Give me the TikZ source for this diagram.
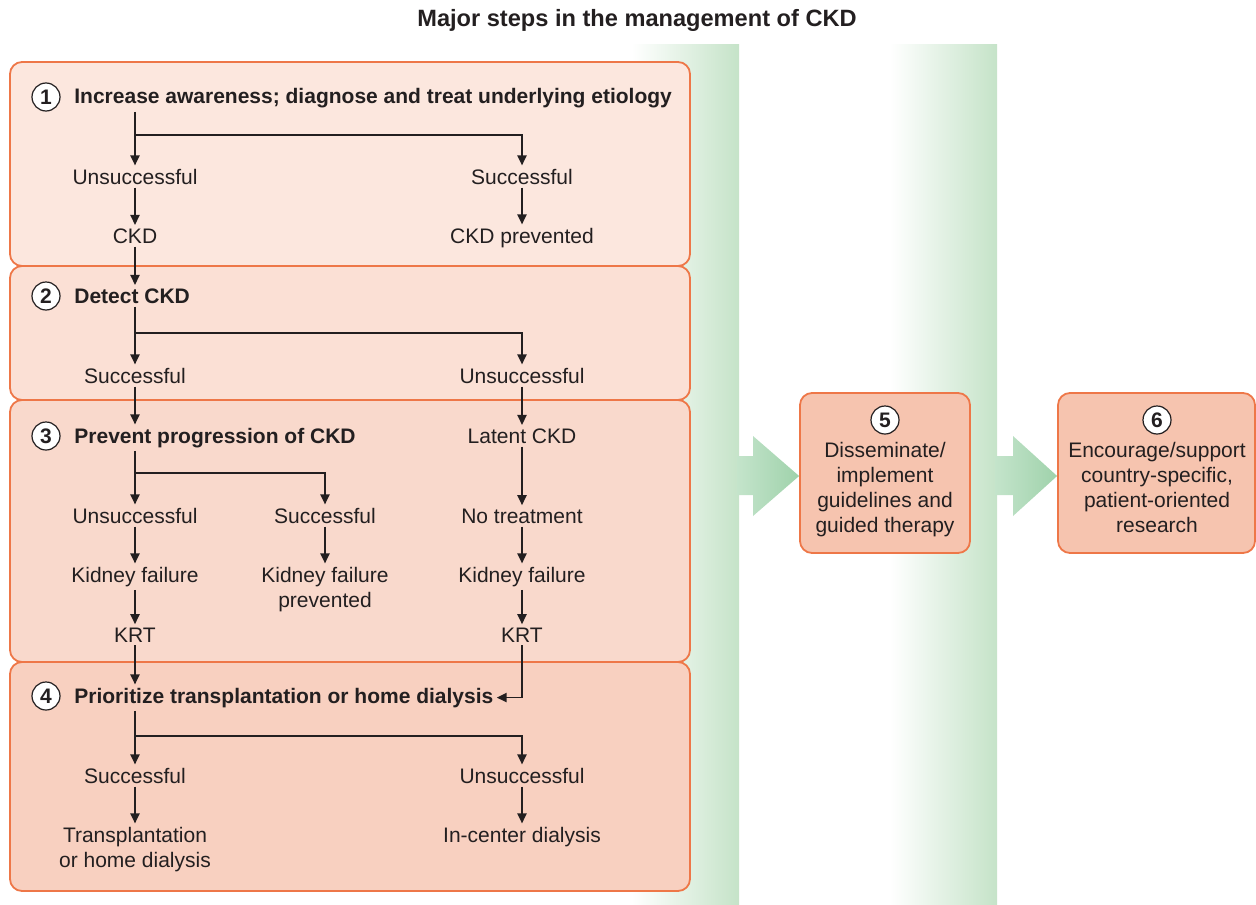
\documentclass[tikz,border=0pt]{standalone}
\usepackage{fontspec}
\setmainfont{Liberation Sans}
\usetikzlibrary{arrows.meta}
\definecolor{boxline}{HTML}{EE7748}
\definecolor{fillone}{HTML}{FCE7DE}
\definecolor{filltwo}{HTML}{FBE0D5}
\definecolor{fillthree}{HTML}{F9D9CC}
\definecolor{fillfour}{HTML}{F8D0C0}
\definecolor{fillstep}{HTML}{F6C4AF}
\definecolor{bandgreen}{HTML}{C5E3C8}
\definecolor{arrowlight}{HTML}{C4E4CB}
\definecolor{arrowdark}{HTML}{9FD2AB}
\definecolor{ink}{HTML}{231F20}
\tikzset{
	panel/.style={draw=boxline,line width=0.9pt,rounded corners=6pt},
	stepbox/.style={panel,fill=fillstep,minimum width=#1,minimum height=80pt,inner sep=0pt},
	lbl/.style={font=\fontsize{10.5}{12.5}\selectfont,text=ink,inner sep=1.5pt,anchor=base},
	lblml/.style={font=\fontsize{10.5}{12.5}\selectfont,text=ink,inner sep=1.5pt,align=center,anchor=north},
	head/.style={font=\fontsize{10.5}{12.5}\selectfont\bfseries,text=ink,inner sep=1.5pt,anchor=base west},
	num/.style={draw=ink,circle,fill=white,line width=0.6pt,minimum size=14pt,inner sep=0pt,text=ink,font=\fontsize{10.5}{12.5}\selectfont\bfseries},
	flow/.style={draw=ink,-{Triangle[length=5pt,width=4.6pt]},line width=0.85pt},
	band/.style={left color=white,right color=bandgreen},
	bigarrow/.style={left color=arrowlight,right color=arrowdark}
}
\begin{document}
\begin{tikzpicture}[x=0.5pt,y=-0.5pt]
	\useasboundingbox (0,0) rectangle (1256,904);
	\node[head,anchor=base,font=\fontsize{11.8}{14}\selectfont\bfseries] (title) at (637,27) {Major steps in the management of CKD};
	
	% green bands
	\shade[band] (632,45) rectangle (739,904);
	\shade[band] (890,45) rectangle (997,904);
	
	% panels
	\draw[panel,fill=fillone] (10,62) rectangle (690,266);
	\draw[panel,fill=filltwo] (10,266) rectangle (690,400);
	\draw[panel,fill=fillthree] (10,400) rectangle (690,662);
	\draw[panel,fill=fillfour] (10,662) rectangle (690,891);
	
	% step 1
	\node[num] (n1) at (46,97) {1};
	\node[head] (h1) at (71,104) {Increase awareness; diagnose and treat underlying etiology};
	\node[lbl] (u1) at (135,184) {Unsuccessful};
	\node[lbl] (s1) at (522,184) {Successful};
	\node[lbl] (ckd) at (135,243) {CKD};
	\node[lbl] (ckdp) at (522,243) {CKD prevented};
	\coordinate (j1) at (135,135);
	\draw[flow] (h1.south -| u1) -- (u1);
	\draw[flow] (j1) -| (s1);
	\draw[flow] (u1) -- (ckd);
	\draw[flow] (s1) -- (ckdp);
	
	% step 2
	\node[num] (n2) at (46,296) {2};
	\node[head] (h2) at (71,303) {Detect CKD};
	\node[lbl] (s2) at (135,383) {Successful};
	\node[lbl] (u2) at (522,383) {Unsuccessful};
	\coordinate (j2) at (135,333);
	\draw[flow] (ckd) -- (h2.north -| ckd);
	\draw[flow] (h2.south -| s2) -- (s2);
	\draw[flow] (j2) -| (u2);
	
	% step 3
	\node[num] (n3) at (46,436) {3};
	\node[head] (h3) at (71,443) {Prevent progression of CKD};
	\node[lbl] (lat) at (522,443) {Latent CKD};
	\node[lbl] (u3) at (135,523) {Unsuccessful};
	\node[lbl] (s3) at (325,523) {Successful};
	\node[lbl] (notr) at (522,523) {No treatment};
	\node[lbl] (kf1) at (135,582) {Kidney failure};
	\node[lblml] (kfp) at (kf1.north -| s3) {Kidney failure\\prevented};
	\node[lbl] (kf2) at (522,582) {Kidney failure};
	\node[lbl] (krt1) at (135,642) {KRT};
	\node[lbl] (krt2) at (522,642) {KRT};
	\coordinate (j3) at (135,473);
	\draw[flow] (s2) -- (h3.north -| s2);
	\draw[flow] (u2) -- (lat);
	\draw[flow] (h3.south -| u3) -- (u3);
	\draw[flow] (j3) -| (s3);
	\draw[flow] (u3) -- (kf1);
	\draw[flow] (s3) -- (kfp);
	\draw[flow] (kf1) -- (krt1);
	\draw[flow] (lat) -- (notr);
	\draw[flow] (notr) -- (kf2);
	\draw[flow] (kf2) -- (krt2);
	
	% step 4
	\node[num] (n4) at (46,696) {4};
	\node[head] (h4) at (71,703) {Prioritize transplantation or home dialysis};
	\node[lbl] (s4) at (135,783) {Successful};
	\node[lbl] (u4) at (522,783) {Unsuccessful};
	\node[lbl] (icd) at (522,842) {In-center dialysis};
	\node[lblml] (tr) at (icd.north -| s4) {Transplantation\\or home dialysis};
	\coordinate (j4) at (135,736);
	\draw[flow] (krt1) -- (h4.north -| krt1);
	\draw[flow] (krt2) |- (h4.east);
	\draw[flow] (h4.south -| s4) -- (s4);
	\draw[flow] (j4) -| (u4);
	\draw[flow] (s4) -- (tr);
	\draw[flow] (u4) -- (icd);
	
	% steps 5 and 6
	\node[stepbox=85pt] (box5) at (885,473) {};
	\node[num] (n5) at (885,420) {5};
	\node[lblml] (t5) at (885,439) {Disseminate/\\implement\\guidelines and\\guided therapy};
	\node[stepbox=98.5pt] (box6) at (1156.5,473) {};
	\node[num] (n6) at (1157,420) {6};
	\node[lblml] (t6) at (1157,439) {Encourage/support\\country-specific,\\patient-oriented\\research};
	
	% big arrows
	\shade[bigarrow] (737,456) -- (753,456) -- (753,436) -- (box5.west |- 0,476) -- (753,516) -- (753,495) -- (737,495) -- cycle;
	\shade[bigarrow] (995,456) -- (1013,456) -- (1013,436) -- (box6.west |- 0,476) -- (1013,516) -- (1013,495) -- (995,495) -- cycle;
\end{tikzpicture}
\end{document}
